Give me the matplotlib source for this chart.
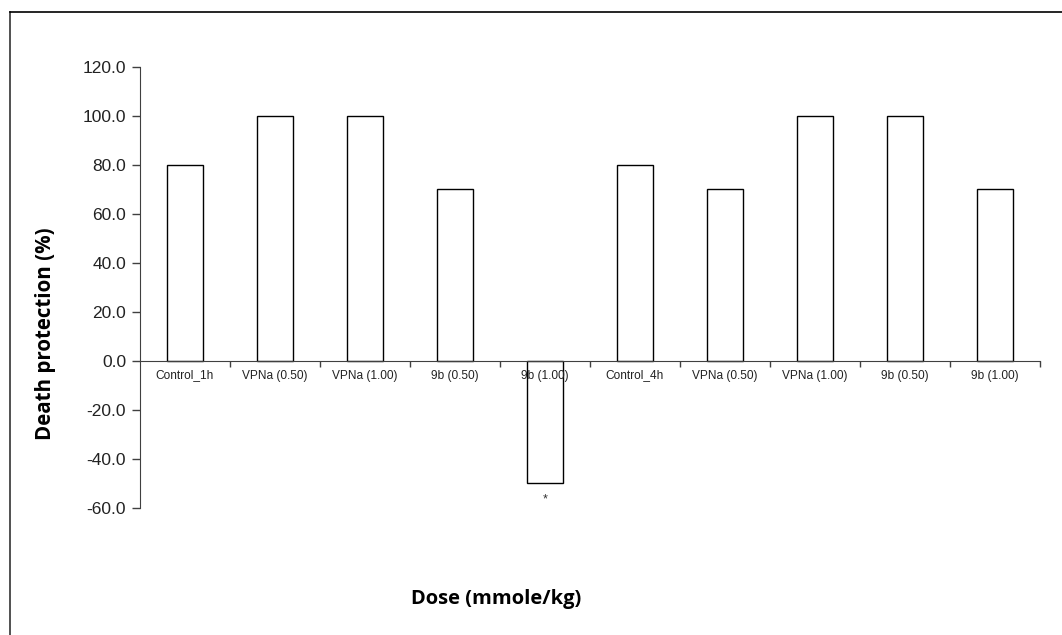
import matplotlib.pyplot as plt
from matplotlib.lines import Line2D

# Data
groups = ['Control_1h', 'VPNa (0.50)', 'VPNa (1.00)', '9b (0.50)', '9b (1.00)',
          'Control_4h', 'VPNa (0.50)', 'VPNa (1.00)', '9b (0.50)', '9b (1.00)']
protection = [80, 100, 100, 70, -50, 80, 70, 100, 100, 70]
marks = ['', '', '', '', '*', '', '', '', '', '']
y_ticks = [-60, -40, -20, 0, 20, 40, 60, 80, 100, 120]

plt.rcParams['font.family'] = ['Liberation Sans', 'DejaVu Sans']

fig = plt.figure(figsize=(10.62, 6.35), dpi=100)
ax = fig.add_axes([140 / 1062, 0.2, 900 / 1062, 0.6945])

x = list(range(len(groups)))
ax.bar(x, protection, width=0.4, color='white', edgecolor='black', linewidth=1, zorder=1)

# star under the significant bar
for xi, v, m in zip(x, protection, marks):
    if m:
        ax.text(xi, v - 4, m, ha='center', va='top', fontsize=9, color='#333333')

ax.set_xlim(-0.5, len(groups) - 0.5)
ax.set_ylim(-60, 120)
ax.set_yticks(y_ticks)
ax.set_yticklabels([f'{t:.1f}' for t in y_ticks], fontsize=12.5, color='#222222')
ax.tick_params(axis='y', direction='out', length=6, width=1, color='#404040', pad=4)

# category axis crosses at zero
ax.spines['bottom'].set_position(('data', 0))
ax.spines['bottom'].set_color('#404040')
ax.set_xticks([i + 0.5 for i in range(len(groups))])
ax.set_xticklabels([])
ax.tick_params(axis='x', direction='out', length=4, width=1, color='#404040')
for xi, g in zip(x, groups):
    ax.text(xi, -3.5, g, ha='center', va='top', fontsize=8.6, color='#222222', zorder=3)

for s in ['top', 'right']:
    ax.spines[s].set_visible(False)
ax.spines['left'].set_color('#404040')

fig.text(46 / 1062, 1 - 334 / 635, 'Death protection (%)', ha='center', va='center',
         rotation=90, fontsize=14.8, fontweight='bold', family=['Open Sans', 'DejaVu Sans'])
fig.text(496 / 1062, 1 - 599 / 635, 'Dose (mmole/kg)', ha='center', va='center',
         fontsize=14.5, fontweight='bold', family=['Open Sans', 'DejaVu Sans'])

# outer frame (top and left edges)
fig.add_artist(Line2D([10 / 1062, 10 / 1062], [0, 1 - 12 / 635], color='#333333', linewidth=1.2,
                      transform=fig.transFigure))
fig.add_artist(Line2D([10 / 1062, 1], [1 - 12 / 635, 1 - 12 / 635], color='black', linewidth=1.2,
                      transform=fig.transFigure))

fig.savefig('out.png', dpi=100)
